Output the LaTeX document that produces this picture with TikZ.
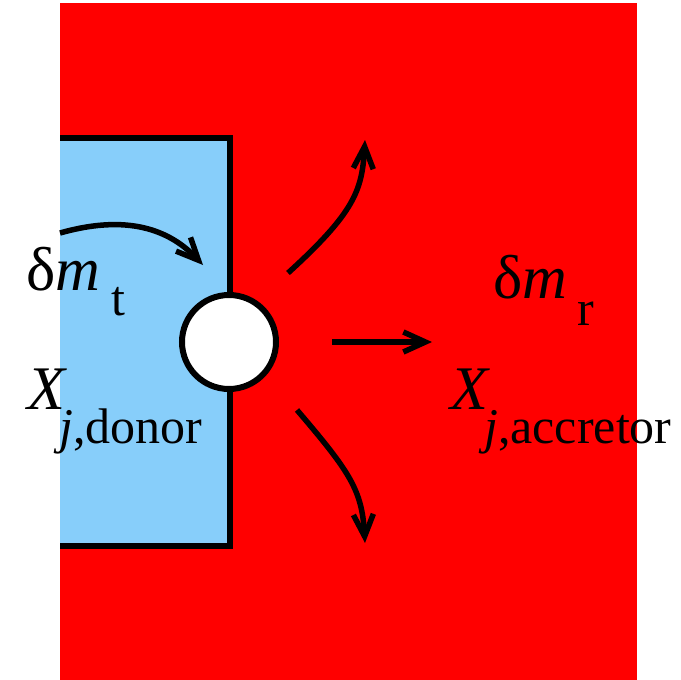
\documentclass[tikz,border=0pt]{standalone}
\usepackage{fontspec}
\setmainfont{Liberation Serif}
\usetikzlibrary{arrows.meta}
\definecolor{donorblue}{RGB}{135,206,250}
\definecolor{accred}{RGB}{255,0,0}
\begin{document}
\begin{tikzpicture}[x=1pt,y=-1pt,
  flow/.style={line width=5.5pt, -{Straight Barb[length=22pt,width=20pt,line width=5.5pt]}},
  big/.style={inner sep=0pt, anchor=base west, font=\fontsize{62}{68}\selectfont},
  small/.style={inner sep=0pt, anchor=base west, font=\fontsize{50}{56}\selectfont}]
\useasboundingbox (0,0) rectangle (681,680);
\fill[white] (0,0) rectangle (681,680);
\fill[accred] (60,3) rectangle (637,680);
\fill[donorblue] (60,138) rectangle (230,546);
\draw[line width=6pt] (60,138) -- (230,138) -- (230,546) -- (60,546);
\node[circle, draw, fill=white, line width=6pt, minimum size=94pt, inner sep=0pt] (star) at (229,342) {};
% arrows
\coordinate (inS) at (60,233);
\coordinate (inE) at (203,265);
\coordinate (upS) at (288,273);
\coordinate (upE) at (365,140);
\coordinate (midS) at (332,342);
\coordinate (midE) at (432,342);
\coordinate (dnS) at (297,410);
\coordinate (dnE) at (365,543);
\draw[flow] (inS) .. controls (120,216) and (165,225) .. (inE);
\draw[flow] (upS) .. controls (355,212) and (362,190) .. (upE);
\draw[flow] (midS) -- (midE);
\draw[flow] (dnS) .. controls (350,472) and (362,490) .. (dnE);
% labels
\node[big] (dmt) at (26,290) {δ\textit{m}};
\node[small] (tsub) at (111,315) {t};
\node[big] (Xd) at (27,409) {\textit{X}};
\node[small] (jd) at (59,443) {\textit{j},donor};
\node[big] (dmr) at (493,298) {δ\textit{m}};
\node[small] (rsub) at (577,325) {r};
\node[big] (Xa) at (450,409) {\textit{X}};
\node[small] (ja) at (484,443) {\textit{j},accretor};
\end{tikzpicture}
\end{document}
